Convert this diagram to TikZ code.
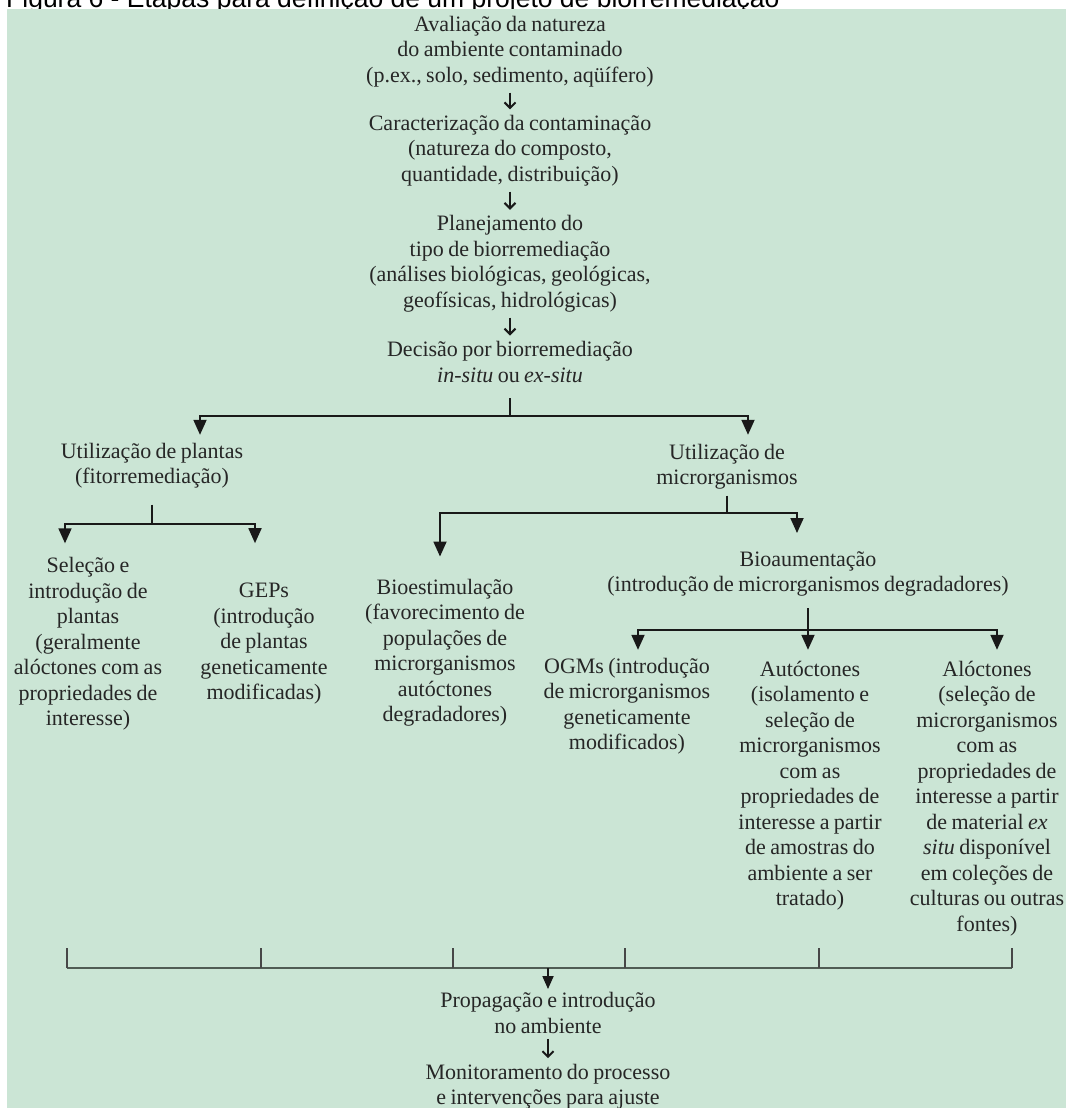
\documentclass[tikz,border=0pt]{standalone}
\usepackage{fontspec}
\setmainfont{Liberation Serif}[WordSpace=0.8]
\newfontfamily\titlefont{Liberation Sans}
\usetikzlibrary{arrows.meta}
\definecolor{bgg}{RGB}{203,229,213}
\definecolor{txtc}{RGB}{38,38,38}
\definecolor{linec}{RGB}{25,25,25}
\definecolor{brkc}{RGB}{80,92,84}
\newcommand\diagfs{\fontsize{22}{25.5}\selectfont}
\begin{document}
\begin{tikzpicture}[x=1pt,y=-1pt,
  txt/.style={align=center,inner sep=0pt,text=txtc,font=\diagfs},
  conn/.style={draw=linec,line width=1.8pt},
  tri/.style={conn,-{Triangle[width=13pt,length=15pt]}},
  tri2/.style={conn,-{Triangle[width=11pt,length=13pt]}},
  small/.style={draw=linec,line width=2pt,-{Straight Barb[length=5.5pt,width=11pt]},shorten <=5.5pt,shorten >=5.5pt},
  brk/.style={draw=brkc,line width=2.4pt},
  tick/.style={draw=linec!80,line width=1.3pt}]
\useasboundingbox (0,0) rectangle (1066,1108);
\clip (0,0) rectangle (1066,1108);
\node[anchor=base west,inner sep=0pt,font=\titlefont\fontsize{26.5}{30}\selectfont] (title) at (6,7.5) {Figura 6 - Etapas para definição de um projeto de biorremediação};
\fill[bgg] (7,9) rectangle (1066,1108);

% top chain
\node[txt] (av) at (510,51.5) {Avaliação da natureza\\do ambiente contaminado\\(p.ex., solo, sedimento, aqüífero)};
\node[txt] (car) at (510,150.5) {Caracterização da contaminação\\(natureza do composto,\\quantidade, distribuição)};
\node[txt] (plan) at (510,263.75) {Planejamento do\\tipo de biorremediação\\(análises biológicas, geológicas,\\geofísicas, hidrológicas)};
\node[txt] (dec) at (510,361.75) {Decisão por biorremediação\\\textit{in-situ} ou \textit{ex-situ}};

% branches
\node[txt] (plants) at (152,465.75) {Utilização de plantas\\(fitorremediação)};
\node[txt] (micro) at (727,466.75) {Utilização de\\microrganismos};
\node[txt] (sel) at (88,644) {Seleção e\\introdução de\\plantas\\(geralmente\\alóctones com as\\propriedades de\\interesse)};
\node[txt] (gep) at (264,644) {GEPs\\(introdução\\de plantas\\geneticamente\\modificadas)};
\node[txt] (bios) at (445,652.5) {Bioestimulação\\(favorecimento de\\populações de\\microrganismos\\autóctones\\degradadores)};
\node[txt] (bioa) at (808,573.75) {Bioaumentação\\(introdução de microrganismos degradadores)};
\node[txt] (ogm) at (627,706.25) {OGMs (introdução\\de microrganismos\\geneticamente\\modificados)};
\node[txt] (aut) at (810,785.75) {Autóctones\\(isolamento e\\seleção de\\microrganismos\\com as\\propriedades de\\interesse a partir\\de amostras do\\ambiente a ser\\tratado)};
\node[txt] (alo) at (987,798.5) {Alóctones\\(seleção de\\microrganismos\\com as\\propriedades de\\interesse a partir\\de material \textit{ex}\\\textit{situ} disponível\\em coleções de\\culturas ou outras\\fontes)};
\node[txt] (prop) at (548,1012.75) {Propagação e introdução\\no ambiente};
\node[txt] (mon) at (548,1086.5) {Monitoramento do processo\\e intervenções para ajuste};

% top chain arrows
\draw[small] (av) -- (car);
\draw[small] (car) -- (plan);
\draw[small] (plan) -- (dec);

% split 1
\coordinate (j1) at (510,416);
\draw[conn,shorten <=16pt] (dec) -- (j1);
\draw[tri] (j1) -| ([xshift=48pt,yshift=8pt]plants.north);
\draw[tri] (j1) -| ([xshift=21pt,yshift=9pt]micro.north);

% split 2
\coordinate (j2) at (152,524);
\draw[conn,shorten <=16pt] (plants) -- (j2);
\draw[tri] (j2) -| ([xshift=-23pt,yshift=14pt]sel.north);
\draw[tri] (j2) -| ([xshift=-9pt,yshift=40pt]gep.north);

% split 3
\coordinate (j3) at (727,513);
\draw[conn,shorten <=6pt] (micro) -- (j3);
\draw[tri] (j3) -| ([xshift=-5pt,yshift=22pt]bios.north);
\draw[tri] (j3) -| ([xshift=-11pt,yshift=18pt]bioa.north);

% split 4
\coordinate (j4) at (808,630);
\draw[tri,shorten <=12pt,shorten >=11pt] (bioa.south) -- (bioa.south |- aut.north);
\draw[tri] (j4) -| ([xshift=11pt,yshift=8pt]ogm.north);
\draw[tri] (j4) -| ([xshift=10pt,yshift=11pt]alo.north);

% bottom bracket
\coordinate (b1) at (67,968);
\coordinate (b2) at (261,968);
\coordinate (b3) at (453,968);
\coordinate (b4) at (625,968);
\coordinate (b5) at (819,968);
\coordinate (b6) at (1012,968);
\coordinate (bm) at (548,968);
\draw[brk] (b1) -- (b6);
\foreach \b in {b1,b2,b3,b4,b5,b6} \draw[tick] (\b) -- ++(0,-20);
\draw[tri2,shorten >=3pt] (bm) -- (prop.north);
\draw[small] (prop) -- (mon);
\end{tikzpicture}
\end{document}
